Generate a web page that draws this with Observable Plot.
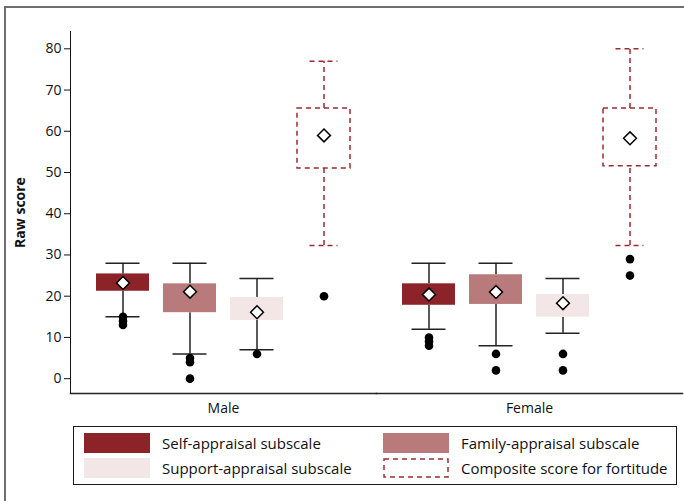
<!DOCTYPE html>
<html>
<head>
<meta charset="utf-8">
<script src="https://cdn.jsdelivr.net/npm/d3@7"></script>
<script src="https://cdn.jsdelivr.net/npm/@observablehq/plot@0.6"></script>
<style>
  body { margin: 0; background: #fff; font-family: "Open Sans", sans-serif; }
  #wrap { position: relative; width: 684px; height: 501px; overflow: hidden; background: #fff; }
  #frame { position: absolute; left: 4px; top: 6px; width: 720px; height: 540px; border-left: 2px solid #6e6e6e; border-top: 2px solid #6e6e6e; }
  #chart { position: absolute; left: 0; top: 0; }
  #legend { position: absolute; left: 73px; top: 426px; width: 602px; height: 57px; border: 1.5px solid #1a1a1a; box-sizing: content-box; }
  .item { position: absolute; display: flex; align-items: center; font-size: 15px; color: #111; white-space: nowrap; }
  .item svg { margin-right: 12px; }
</style>
</head>
<body>
<div id="wrap">
  <div id="frame"></div>
  <div id="chart"></div>
  <div id="legend"></div>
</div>
<script>
// ---- data ----
const sexes = ["Male", "Female"];
const subscales = [
  "Self-appraisal subscale",
  "Family-appraisal subscale",
  "Support-appraisal subscale",
  "Composite score for fortitude"
];
const colors = ["#8b2328", "#b87a7a", "#f2e6e6", "#9b2b30"];
// order: Male (4 subscales), Female (4 subscales)
const whiskerLow  = [15, 6, 7, 32.3, 12, 8, 11, 32.3];
const q1          = [21.2, 16, 14.1, 51, 17.8, 18, 14.9, 51.5];
const q3          = [25.4, 23, 19.7, 65.5, 23, 25.2, 20.4, 65.5];
const whiskerHigh = [28, 28, 24.3, 77, 28, 28, 24.3, 80];
const means       = [23.2, 21.1, 16.1, 59, 20.4, 21, 18.3, 58.3];
const outliers    = [[15, 14, 13], [5, 4, 0], [6], [20], [10, 9, 8], [6, 2], [6, 2], [29, 25]];
const yTicks = [0, 10, 20, 30, 40, 50, 60, 70, 80];

// ---- tables ----
const rows = sexes.flatMap((s, i) => subscales.map((k, j) => {
  const n = i * 4 + j;
  return {sex: s, sub: k, lo: whiskerLow[n], q1: q1[n], q3: q3[n], hi: whiskerHigh[n], mean: means[n]};
}));
const outs = sexes.flatMap((s, i) => subscales.flatMap((k, j) =>
  outliers[i * 4 + j].map(v => ({sex: s, sub: k, value: v}))));
const solid = rows.filter(d => d.sub !== subscales[3]);
const comp = rows.filter(d => d.sub === subscales[3]);

const dash = "5,4";
const compColor = colors[3];

const H = 425;
const chart = Plot.plot({
  width: 684,
  height: H,
  marginLeft: 69,
  marginRight: 2,
  marginTop: 31,
  marginBottom: H - 393,
  style: {fontFamily: "Open Sans, sans-serif", fontSize: "14px", color: "#111", background: "transparent"},
  fx: {domain: sexes, paddingInner: 0, paddingOuter: 0, label: null, tickSize: 0, tickPadding: 10},
  x: {domain: subscales, paddingInner: 0.215, paddingOuter: 0.378, axis: null},
  y: {domain: [-3.6, 84.2], ticks: yTicks, tickSize: 6, label: "Raw score", labelAnchor: "center", labelArrow: "none", labelOffset: 55, line: true},
  color: {domain: subscales, range: colors},
  marks: [
    Plot.frame({anchor: "bottom", stroke: "#222", strokeWidth: 1.5}),
    // whiskers
    Plot.ruleX(solid, {x: "sub", fx: "sex", y1: "q3", y2: "hi", stroke: "#222", strokeWidth: 1.5}),
    Plot.ruleX(solid, {x: "sub", fx: "sex", y1: "lo", y2: "q1", stroke: "#222", strokeWidth: 1.5}),
    Plot.ruleX(comp, {x: "sub", fx: "sex", y1: "q3", y2: "hi", stroke: compColor, strokeWidth: 1.5, strokeDasharray: dash}),
    Plot.ruleX(comp, {x: "sub", fx: "sex", y1: "lo", y2: "q1", stroke: compColor, strokeWidth: 1.5, strokeDasharray: dash}),
    // caps
    Plot.tickY(solid, {x: "sub", fx: "sex", y: "hi", stroke: "#222", strokeWidth: 1.5, inset: 9.5}),
    Plot.tickY(solid, {x: "sub", fx: "sex", y: "lo", stroke: "#222", strokeWidth: 1.5, inset: 9.5}),
    Plot.tickY(comp, {x: "sub", fx: "sex", y: "hi", stroke: compColor, strokeWidth: 1.5, strokeDasharray: dash, inset: 12.5}),
    Plot.tickY(comp, {x: "sub", fx: "sex", y: "lo", stroke: compColor, strokeWidth: 1.5, strokeDasharray: dash, inset: 12.5}),
    // boxes
    Plot.barY(solid, {x: "sub", fx: "sex", y1: "q1", y2: "q3", fill: "sub"}),
    Plot.barY(comp, {x: "sub", fx: "sex", y1: "q1", y2: "q3", fill: "none", stroke: compColor, strokeWidth: 1.5, strokeDasharray: dash}),
    // outliers
    Plot.dot(outs, {x: "sub", fx: "sex", y: "value", r: 4.3, fill: "#000", stroke: "none"}),
    // means
    Plot.dot(rows, {x: "sub", fx: "sex", y: "mean", symbol: "diamond2", r: 5.8, fill: "#fff", stroke: "#000", strokeWidth: 1.5})
  ]
});
chart.querySelectorAll("[aria-label='y-axis label'] text, [aria-label='y-axis label']").forEach(el => {
  el.style.fontWeight = "bold";
});
chart.querySelectorAll("[aria-label='y-axis label'] text").forEach(el => {
  el.textContent = el.textContent.replace(/[\u2191\u2192\u2193\u2190]/g, "").trim();
});
document.getElementById("chart").appendChild(chart);

// ---- legend ----
const legend = document.getElementById("legend");
const pos = [[10, 6], [309, 6], [10, 31], [309, 31]];
subscales.forEach((k, j) => {
  const div = document.createElement("div");
  div.className = "item";
  div.style.left = pos[j][0] + "px";
  div.style.top = pos[j][1] + "px";
  const isComp = j === 3;
  const sw = isComp
    ? `<svg width="66" height="20"><rect x="1" y="1" width="64" height="18" fill="none" stroke="${colors[j]}" stroke-width="1.5" stroke-dasharray="${dash}"/></svg>`
    : `<svg width="66" height="20"><rect x="0" y="0" width="66" height="20" fill="${colors[j]}"/></svg>`;
  div.innerHTML = sw + `<span>${k}</span>`;
  legend.appendChild(div);
});
</script>
</body>
</html>
